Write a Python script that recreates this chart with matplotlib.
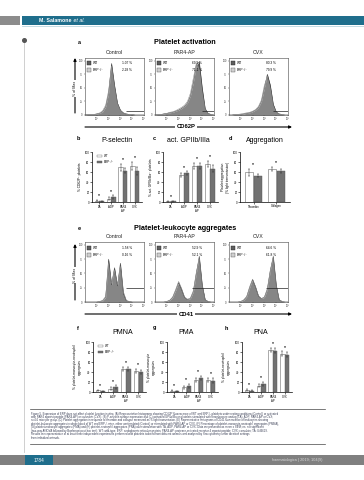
import matplotlib
matplotlib.use("Agg")
import matplotlib.pyplot as plt
from matplotlib.patches import Rectangle

plt.rcParams['font.family'] = ['Liberation Sans', 'DejaVu Sans']

W, H = 364, 480

# ---------------- data ----------------
hist_x = [0, 0.25, 0.5, 0.75, 1.0, 1.25, 1.5, 1.75, 2.0, 2.25, 2.5,
          2.75, 3.0, 3.25, 3.5, 3.75, 4.0, 4.25, 4.5, 4.75, 5.0]
hist_titles = ['Control', 'PAR4-AP', 'CVX']
hist_ticks = [1, 2, 3, 4, 5]
hist_ticklabels = ['10¹', '10²', '10³', '10⁴', '10⁵']

# (A) CD62P histograms, % of max
act_wt = [
    [0, 1, 1, 1, 2, 3, 6, 15, 40, 95, 55, 22, 9, 4, 2, 1, 1, 0, 0, 0, 0],
    [0, 1, 1, 2, 3, 4, 5, 7, 9, 12, 16, 22, 35, 60, 92, 98, 50, 12, 3, 1, 0],
    [0, 0, 1, 1, 1, 2, 3, 4, 6, 9, 14, 25, 50, 75, 55, 20, 6, 2, 1, 0, 0],
]
act_ko = [
    [0, 1, 1, 1, 2, 4, 8, 18, 45, 90, 50, 20, 8, 3, 2, 1, 1, 0, 0, 0, 0],
    [0, 1, 1, 2, 3, 5, 6, 8, 11, 14, 18, 25, 40, 68, 95, 85, 40, 10, 3, 1, 0],
    [0, 0, 1, 1, 2, 3, 4, 5, 7, 10, 16, 28, 55, 70, 48, 16, 5, 2, 1, 0, 0],
]
act_pct_wt = ['1.07 %', '69.9 %', '80.3 %']
act_pct_ko = ['2.28 %', '71.1 %', '79.9 %']
act_gate_x0 = [3.45, 4.0, 3.7]
act_gate_y = 7

# (E) CD41 histograms, % of max
pla_wt = [
    [0, 0, 0, 0, 0, 1, 2, 8, 75, 30, 60, 28, 68, 15, 2, 1, 0, 0, 0, 0, 0],
    [0, 0, 0, 0, 1, 3, 8, 20, 34, 22, 8, 4, 6, 18, 50, 80, 30, 4, 1, 0, 0],
    [0, 0, 0, 0, 1, 3, 9, 25, 39, 26, 10, 6, 8, 22, 55, 80, 30, 4, 1, 0, 0],
]
pla_ko = [
    [0, 0, 0, 0, 0, 1, 3, 10, 65, 32, 55, 30, 62, 18, 3, 1, 0, 0, 0, 0, 0],
    [0, 0, 0, 0, 1, 3, 9, 22, 36, 24, 9, 5, 7, 20, 52, 75, 28, 4, 1, 0, 0],
    [0, 0, 0, 0, 1, 4, 10, 27, 40, 27, 11, 6, 9, 24, 56, 76, 28, 4, 1, 0, 0],
]
pla_pct_wt = ['1.58 %', '52.9 %', '64.6 %']
pla_pct_ko = ['0.16 %', '52.1 %', '61.8 %']
pla_gate_x0 = [3.45, 3.15, 3.15]
pla_gate_y = 24

stim_labels = ['TA', 'ADP', 'PAR4\nAP', 'CVX']
aggr_labels = ['Thrombin', 'Collagen']

psel_wt = [3, 7, 70, 73];   psel_wt_err = [1, 3, 7, 8]
psel_ko = [2, 10, 63, 63];  psel_ko_err = [1, 4, 5, 8]
gp_wt = [2, 55, 73, 77];    gp_wt_err = [1, 4, 6, 6]
gp_ko = [2, 58, 73, 67];    gp_ko_err = [1, 4, 6, 7]
aggr_wt = [60, 67];         aggr_wt_err = [7, 4]
aggr_ko = [53, 63];         aggr_ko_err = [3, 4]
pmna_wt = [4, 7, 47, 43];   pmna_wt_err = [1, 3, 4, 4]
pmna_ko = [2, 10, 47, 40];  pmna_ko_err = [1, 4, 4, 4]
pma_wt = [3, 10, 25, 25];   pma_wt_err = [1, 3, 4, 4]
pma_ko = [2, 13, 29, 23];   pma_ko_err = [1, 4, 4, 5]
pna_wt = [5, 13, 85, 77];   pna_wt_err = [2, 3, 4, 5]
pna_ko = [3, 17, 83, 75];   pna_ko_err = [1, 4, 5, 5]

caption_lines = [
    "Figure 5. Expression of ERP does not affect platelet function in vitro. (A) Representative histograms showing CD62P fluorescence of WT and ERP-/- platelets under resting conditions (Control) or activated",
    "with PAR4 agonist peptide (PAR4-AP) or convulxin (CVX). (B) P-selectin surface expression and (C) activated GPIIb/IIIa on platelets stimulated with thromboxane analog (TA), ADP, PAR4-AP or CVX;",
    "n=4-6 mice per group. (D) Platelet aggregation in response to thrombin and collagen measured as % light transmission. (E) Representative histograms of CD41 fluorescence of leukocytes showing",
    "platelet-leukocyte aggregates in whole blood of WT and ERP-/- mice, either unstimulated (Control) or stimulated with PAR4-AP or CVX. (F) Percentage of platelet-monocyte-neutrophil aggregates (PMNA),",
    "(G) platelet-monocyte aggregates (PMA) and (H) platelet-neutrophil aggregates (PNA) after stimulation with TA, ADP, PAR4-AP or CVX. Data are presented as mean ± SEM; ns: not significant",
    "(two-way ANOVA followed by Bonferroni post-hoc test). WT: wild-type; ERP: endoplasmic reticulum protein; PAR4-AP: protease-activated receptor 4 agonist peptide; CVX: convulxin; TA: U46619.",
    "Results are representative of at least three independent experiments performed with platelets isolated from different animals and analysed by flow cytometry under identical settings.",
    "from individual animals.",
]

# ---------------- helpers ----------------
fig = plt.figure(figsize=(W / 100, H / 100), dpi=100)
fig.patch.set_facecolor('white')

page = fig.add_axes([0, 0, 1, 1])
page.set_xlim(0, W)
page.set_ylim(H, 0)
page.axis('off')


def ax_px(x0, y0, x1, y1):
    return fig.add_axes([x0 / W, 1 - y1 / H, (x1 - x0) / W, (y1 - y0) / H])


TEAL = '#1f6e8c'
WT_FACE = 'white'
WT_EDGE = '#6a6a6a'
KO_FACE = '#727272'

# ---------------- page decorations ----------------
page.add_patch(Rectangle((0, 16), 20, 9, fc='#8c8c8c', ec='none'))
page.add_patch(Rectangle((22, 16), W - 22, 9, fc=TEAL, ec='none'))
page.plot([22, W], [25.5, 25.5], color='#b9d4de', lw=0.6)
t_auth = page.text(39, 20.6, 'M. Salamone', color='white', fontsize=3.8,
                   fontweight='bold', va='center', ha='left')
page.annotate(' et al.', xy=(1, 0.5), xycoords=t_auth, color='white',
              fontsize=3.8, fontstyle='italic', va='center', ha='left')
page.plot([24, 24], [40, 452], color='#c8c8c8', lw=0.6)
page.plot([24], [40], 'o', ms=2.6, color='#555555')

page.add_patch(Rectangle((0, 455), W, 10, fc='#808080', ec='none'))
page.add_patch(Rectangle((25, 455), 28, 10, fc=TEAL, ec='none'))
page.text(39, 460.2, '1784', color='white', fontsize=3.4, ha='center', va='center')
page.text(322, 460.2, 'haematologica | 2019; 104(9)', color='#d8d8d8', fontsize=2.8,
          ha='right', va='center')

page.plot([30, 325], [409, 409], color='#444444', lw=0.5)
page.plot([30, 325], [443.5, 443.5], color='#444444', lw=0.5)
for i, line in enumerate(caption_lines):
    page.text(31, 413.5 + i * 3.45, line, fontsize=2.0, color='#3a3f55',
              ha='left', va='center')

# ---------------- section titles ----------------
page.text(79, 42, 'a', fontsize=4, fontweight='bold', ha='center', va='center')
page.text(185, 42, 'Platelet activation', fontsize=5.2, fontweight='bold',
          ha='center', va='center')
page.text(79, 228, 'e', fontsize=4, fontweight='bold', ha='center', va='center')
page.text(185, 228, 'Platelet-leukocyte aggregates', fontsize=5.2, fontweight='bold',
          ha='center', va='center')

hist_x_px = [(85, 144), (155, 214), (229, 288)]


def hist_panel(ax, wt, ko, pct_wt, pct_ko, gx0, gy, ylabels):
    ax.fill_between(hist_x, wt, color='#5e5e5e', lw=0)
    ax.fill_between(hist_x, ko, color='#a8a8a8', alpha=0.55, lw=0)
    ax.plot(hist_x, wt, color='#3a3a3a', lw=0.35)
    ax.plot(hist_x, ko, color='#8a8a8a', lw=0.35)
    ax.hlines(gy, gx0, 5, color='#222222', lw=0.5)
    ax.set_xlim(0, 5)
    ax.set_ylim(0, 105)
    for s in ax.spines.values():
        s.set_linewidth(0.4)
        s.set_color('#444444')
    ax.set_xticks(hist_ticks)
    ax.set_xticklabels(hist_ticklabels)
    ax.set_yticks([0, 25, 50, 75, 100])
    ax.set_yticklabels(ylabels)
    ax.tick_params(labelsize=1.8, length=1, width=0.3, pad=0.6, colors='#333333')
    ax.add_patch(Rectangle((0.03, 0.87), 0.07, 0.07, transform=ax.transAxes,
                           fc='#5e5e5e', ec='#222222', lw=0.3))
    ax.add_patch(Rectangle((0.03, 0.75), 0.07, 0.07, transform=ax.transAxes,
                           fc='#d0d0d0', ec='#555555', lw=0.3))
    ax.text(0.13, 0.905, 'WT', transform=ax.transAxes, fontsize=2.3, va='center')
    ax.text(0.13, 0.785, 'ERP⁻/⁻', transform=ax.transAxes, fontsize=2.3, va='center')
    ax.text(0.62, 0.905, pct_wt, transform=ax.transAxes, fontsize=2.3, va='center')
    ax.text(0.62, 0.785, pct_ko, transform=ax.transAxes, fontsize=2.3, va='center')


ylab = ['0', '25', '50', '75', '100']
for i in range(3):
    x0, x1 = hist_x_px[i]
    ax = ax_px(x0, 58, x1, 115)
    hist_panel(ax, act_wt[i], act_ko[i], act_pct_wt[i], act_pct_ko[i],
               act_gate_x0[i], act_gate_y, ylab)
    page.text((x0 + x1) / 2, 52.5, hist_titles[i], fontsize=3.8, ha='center',
              va='center', color='#222222')
    ax = ax_px(x0, 242, x1, 302)
    hist_panel(ax, pla_wt[i], pla_ko[i], pla_pct_wt[i], pla_pct_ko[i],
               pla_gate_x0[i], pla_gate_y, ylab)
    page.text((x0 + x1) / 2, 237, hist_titles[i], fontsize=3.8, ha='center',
              va='center', color='#222222')

# axis arrows
for (ya, yb, xa) in [(113, 58, 75), (300, 244, 75)]:
    page.annotate('', xy=(xa, yb), xytext=(xa, ya),
                  arrowprops=dict(arrowstyle='-|>', lw=0.8, color='black',
                                  mutation_scale=4, shrinkA=0, shrinkB=0))
    page.text(xa, (ya + yb) / 2 + 3, '% of Max', rotation=90, fontsize=2.6,
              ha='center', va='center',
              bbox=dict(fc='white', ec='none', pad=0.3))
for (yy, lab) in [(127, 'CD62P'), (314, 'CD41')]:
    page.annotate('', xy=(292, yy), xytext=(85, yy),
                  arrowprops=dict(arrowstyle='-|>', lw=0.8, color='black',
                                  mutation_scale=4, shrinkA=0, shrinkB=0))
    page.text(186, yy, lab, fontsize=4.2, fontweight='bold', ha='center',
              va='center', bbox=dict(fc='white', ec='none', pad=0.8))


# ---------------- bar charts ----------------
def bar_panel(ax, labels, wt, wte, ko, koe, legend=False, bw=0.36):
    n = len(labels)
    xs = list(range(n))
    xw = [x - bw / 2 - 0.02 for x in xs]
    xk = [x + bw / 2 + 0.02 for x in xs]
    ax.bar(xw, wt, bw, color=WT_FACE, edgecolor=WT_EDGE, lw=0.4, zorder=2)
    ax.bar(xk, ko, bw, color=KO_FACE, edgecolor='#555555', lw=0.3, zorder=2)
    ax.errorbar(xw, wt, yerr=wte, fmt='none', ecolor='#333333', elinewidth=0.35,
                capsize=0.8, capthick=0.35, zorder=3)
    ax.errorbar(xk, ko, yerr=koe, fmt='none', ecolor='#333333', elinewidth=0.35,
                capsize=0.8, capthick=0.35, zorder=3)
    for i in range(n):
        top = max(wt[i] + wte[i], ko[i] + koe[i])
        ax.text(xs[i], top + 5, 'ns', fontsize=2.0, ha='center', va='bottom')
    ax.set_xlim(-0.6, n - 0.4)
    ax.set_ylim(0, 100)
    ax.set_yticks([0, 20, 40, 60, 80, 100])
    ax.set_xticks(xs)
    ax.set_xticklabels(labels)
    ax.spines['top'].set_visible(False)
    ax.spines['right'].set_visible(False)
    ax.spines['left'].set_linewidth(0.5)
    ax.spines['bottom'].set_linewidth(0.5)
    ax.tick_params(labelsize=2.0, length=1.2, width=0.4, pad=0.6)
    ax.set_facecolor('none')
    if legend:
        ax.add_patch(Rectangle((0.1, 0.9), 0.09, 0.05, transform=ax.transAxes,
                               fc=WT_FACE, ec=WT_EDGE, lw=0.3))
        ax.add_patch(Rectangle((0.1, 0.78), 0.09, 0.05, transform=ax.transAxes,
                               fc=KO_FACE, ec='#555555', lw=0.3))
        ax.text(0.23, 0.925, 'WT', transform=ax.transAxes, fontsize=2.2, va='center')
        ax.text(0.23, 0.805, 'ERP⁻/⁻', transform=ax.transAxes, fontsize=2.2,
                va='center')


ax = ax_px(92, 152, 142, 202)
bar_panel(ax, stim_labels, psel_wt, psel_wt_err, psel_ko, psel_ko_err, legend=True)
ax.set_ylabel('% CD62P⁺ platelets', fontsize=2.3, labelpad=2)
ax = ax_px(163, 152, 218, 202)
bar_panel(ax, stim_labels, gp_wt, gp_wt_err, gp_ko, gp_ko_err)
ax.set_ylabel('% act. GPIIb/IIIa⁺ platelets', fontsize=2.3, labelpad=2)
ax = ax_px(240, 152, 290, 202)
bar_panel(ax, aggr_labels, aggr_wt, aggr_wt_err, aggr_ko, aggr_ko_err, bw=0.34)
ax.set_ylabel('Platelet aggregation\n(% light transmission)', fontsize=2.3, labelpad=2)

page.text(78, 139, 'b', fontsize=4, fontweight='bold', ha='center', va='center')
page.text(117, 140.5, 'P-selectin', fontsize=5, ha='center', va='center')
page.text(154, 139, 'c', fontsize=4, fontweight='bold', ha='center', va='center')
page.text(188, 140.5, 'act. GPIIb/IIIa', fontsize=5, ha='center', va='center')
page.text(230, 139, 'd', fontsize=4, fontweight='bold', ha='center', va='center')
page.text(265, 140.5, 'Aggregation', fontsize=5, ha='center', va='center')

ax = ax_px(93, 342, 146, 392)
bar_panel(ax, stim_labels, pmna_wt, pmna_wt_err, pmna_ko, pmna_ko_err, legend=True)
ax.set_ylabel('% platelet-monocyte-neutrophil\naggregates', fontsize=2.3, labelpad=3)
ax = ax_px(167, 342, 218, 392)
bar_panel(ax, stim_labels, pma_wt, pma_wt_err, pma_ko, pma_ko_err)
ax.set_ylabel('% platelet-monocyte\naggregates', fontsize=2.3, labelpad=3)
ax = ax_px(242, 342, 292, 392)
bar_panel(ax, stim_labels, pna_wt, pna_wt_err, pna_ko, pna_ko_err)
ax.set_ylabel('% platelet-neutrophil\naggregates', fontsize=2.3, labelpad=3)

page.text(78, 328, 'f', fontsize=4, fontweight='bold', ha='center', va='center')
page.text(123, 333, 'PMNA', fontsize=5, ha='center', va='center')
page.text(154, 328, 'g', fontsize=4, fontweight='bold', ha='center', va='center')
page.text(186, 333, 'PMA', fontsize=5, ha='center', va='center')
page.text(226, 328, 'h', fontsize=4, fontweight='bold', ha='center', va='center')
page.text(261, 333, 'PNA', fontsize=5, ha='center', va='center')

fig.savefig('out.png', dpi=100, facecolor='white')
